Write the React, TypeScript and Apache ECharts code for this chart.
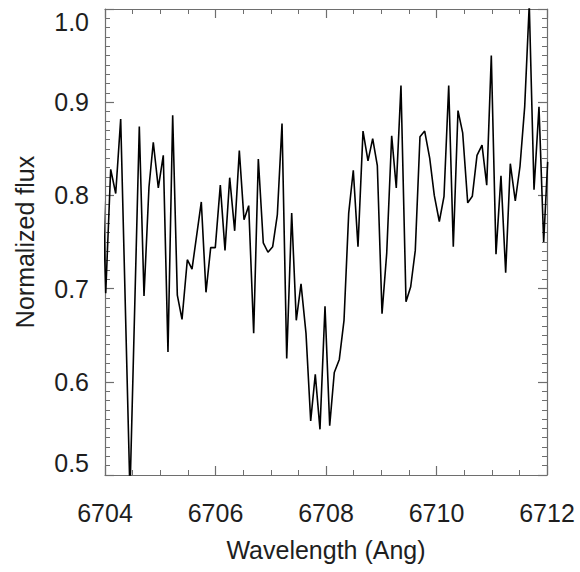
import React, { useEffect, useRef } from "react";
import * as echarts from "echarts";

const wavelength = [
  6703.92, 6704.013, 6704.103, 6704.194, 6704.284, 6704.452, 6704.621, 6704.706, 6704.796, 6704.874,
  6704.965, 6705.055, 6705.14, 6705.225, 6705.309, 6705.394, 6705.49, 6705.575, 6705.743, 6705.828,
  6705.913, 6705.996, 6706.087, 6706.172, 6706.257, 6706.347, 6706.431, 6706.516, 6706.601, 6706.691,
  6706.775, 6706.865, 6706.95, 6707.035, 6707.119, 6707.204, 6707.289, 6707.379, 6707.462, 6707.548,
  6707.638, 6707.723, 6707.806, 6707.891, 6707.982, 6708.067, 6708.15, 6708.241, 6708.326, 6708.411,
  6708.494, 6708.579, 6708.67, 6708.76, 6708.845, 6708.929, 6709.014, 6709.099, 6709.189, 6709.272,
  6709.357, 6709.448, 6709.533, 6709.616, 6709.701, 6709.786, 6709.877, 6709.96, 6710.051, 6710.136,
  6710.221, 6710.304, 6710.389, 6710.474, 6710.565, 6710.648, 6710.733, 6710.824, 6710.909, 6710.992,
  6711.077, 6711.167, 6711.252, 6711.336, 6711.426, 6711.511, 6711.596, 6711.679, 6711.765, 6711.855,
  6711.94, 6712.012,
];

const flux = [
  0.9, 0.695, 0.828, 0.802, 0.882, 0.48, 0.874, 0.692, 0.809, 0.857,
  0.808, 0.843, 0.632, 0.886, 0.693, 0.667, 0.731, 0.721, 0.793, 0.696,
  0.744, 0.744, 0.811, 0.741, 0.819, 0.762, 0.848, 0.774, 0.789, 0.652,
  0.839, 0.749, 0.739, 0.745, 0.779, 0.877, 0.625, 0.781, 0.666, 0.705,
  0.652, 0.558, 0.608, 0.549, 0.681, 0.553, 0.61, 0.624, 0.666, 0.781,
  0.827, 0.745, 0.869, 0.837, 0.861, 0.832, 0.673, 0.738, 0.864, 0.808,
  0.918, 0.686, 0.702, 0.741, 0.863, 0.869, 0.84, 0.8, 0.772, 0.799,
  0.918, 0.745, 0.891, 0.867, 0.792, 0.799, 0.843, 0.854, 0.811, 0.95,
  0.737, 0.821, 0.717, 0.834, 0.794, 0.831, 0.895, 1.005, 0.806, 0.895,
  0.75, 0.836,
];

const xTitle = "Wavelength (Ang)";
const yTitle = "Normalized flux";

const FONT = "'Liberation Sans', Arial, Helvetica, sans-serif";
const AXIS_COLOR = "#6e6e6e";
const TEXT_COLOR = "#1e1e1e";

export default function App() {
  const ref = useRef<HTMLDivElement>(null);

  useEffect(() => {
    if (!ref.current) return;
    const chart = echarts.init(ref.current, undefined, { renderer: "svg" });

    const axisLine = { show: true, lineStyle: { color: AXIS_COLOR, width: 1.2 } };
    const majorTick = { show: true, inside: true, length: 9, lineStyle: { color: AXIS_COLOR, width: 1.2 } };
    const minorTick = (n: number) => ({
      show: true,
      splitNumber: n,
      length: 5,
      lineStyle: { color: AXIS_COLOR, width: 1 },
    });

    const xBase = {
      type: "value" as const,
      min: 6704,
      max: 6712,
      interval: 2,
      axisLine,
      axisTick: majorTick,
      minorTick: minorTick(4),
      splitLine: { show: false },
    };
    const yBase = {
      type: "value" as const,
      min: 0.5,
      max: 1.0,
      interval: 0.1,
      axisLine,
      axisTick: majorTick,
      minorTick: minorTick(10),
      splitLine: { show: false },
    };

    chart.setOption({
      animation: false,
      backgroundColor: "#ffffff",
      grid: { left: 105, top: 9, right: 33, bottom: 97, containLabel: false },
      xAxis: [
        {
          ...xBase,
          position: "bottom",
          name: xTitle,
          nameLocation: "middle",
          nameGap: 62,
          nameTextStyle: { fontFamily: FONT, fontSize: 25, color: TEXT_COLOR },
          axisLabel: {
            show: true,
            margin: 25,
            fontFamily: FONT,
            fontSize: 25,
            color: TEXT_COLOR,
            formatter: (v: number) => String(Math.round(v)),
          },
        },
        {
          ...xBase,
          position: "top",
          axisLabel: { show: false },
        },
      ],
      yAxis: [
        {
          ...yBase,
          position: "left",
          name: yTitle,
          nameLocation: "middle",
          nameGap: 68,
          nameTextStyle: { fontFamily: FONT, fontSize: 25, color: TEXT_COLOR },
          axisLabel: {
            show: true,
            margin: 16,
            fontFamily: FONT,
            fontSize: 25,
            color: TEXT_COLOR,
            verticalAlignMinLabel: "bottom",
            verticalAlignMaxLabel: "top",
            formatter: (v: number) => v.toFixed(1),
          },
        },
        {
          ...yBase,
          position: "right",
          axisLabel: { show: false },
        },
      ],
      series: [
        {
          type: "line",
          xAxisIndex: 0,
          yAxisIndex: 0,
          data: wavelength.map((w, i) => [w, flux[i]]),
          showSymbol: false,
          symbol: "none",
          clip: true,
          lineStyle: { color: "#000000", width: 1.6 },
        },
      ],
    });

    return () => chart.dispose();
  }, []);

  return (
    <div
      ref={ref}
      style={{ position: "fixed", left: 0, top: 0, width: 580, height: 572, background: "#fff" }}
    />
  );
}
